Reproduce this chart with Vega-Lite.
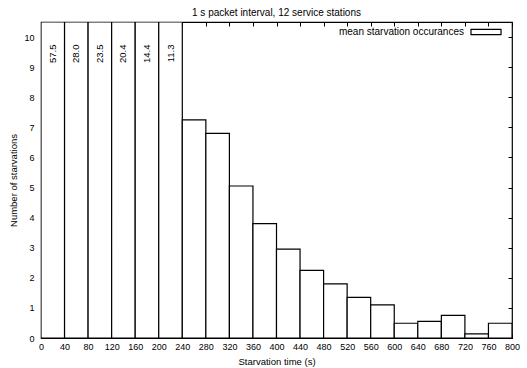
{
  "$schema": "https://vega.github.io/schema/vega-lite/v6.json",
  "width": 471,
  "height": 316,
  "autosize": "none",
  "padding": {"left": 41, "top": 22, "right": 15, "bottom": 30},
  "background": "white",
  "config": {
    "font": "Liberation Sans",
    "view": {"stroke": "black", "strokeWidth": 1.2},
    "axis": {"domain": false, "grid": false, "tickColor": "black", "labelColor": "black", "titleColor": "black", "labelFontSize": 9, "titleFontSize": 9.5, "titleFontWeight": "normal", "labelFont": "Liberation Sans", "titleFont": "Liberation Sans"}
  },
  "title": {"text": "1 s packet interval, 12 service stations", "fontSize": 10, "fontWeight": "normal", "font": "Liberation Sans", "color": "black", "offset": -2},
  "data": {"values": [
    {"start": 0, "end": 40, "value": 57.5, "label": "57.5", "series": "mean starvation occurances"},
    {"start": 40, "end": 80, "value": 28.0, "label": "28.0", "series": "mean starvation occurances"},
    {"start": 80, "end": 120, "value": 23.5, "label": "23.5", "series": "mean starvation occurances"},
    {"start": 120, "end": 160, "value": 20.4, "label": "20.4", "series": "mean starvation occurances"},
    {"start": 160, "end": 200, "value": 14.4, "label": "14.4", "series": "mean starvation occurances"},
    {"start": 200, "end": 240, "value": 11.3, "label": "11.3", "series": "mean starvation occurances"},
    {"start": 240, "end": 280, "value": 7.25, "label": "", "series": "mean starvation occurances"},
    {"start": 280, "end": 320, "value": 6.8, "label": "", "series": "mean starvation occurances"},
    {"start": 320, "end": 360, "value": 5.05, "label": "", "series": "mean starvation occurances"},
    {"start": 360, "end": 400, "value": 3.8, "label": "", "series": "mean starvation occurances"},
    {"start": 400, "end": 440, "value": 2.95, "label": "", "series": "mean starvation occurances"},
    {"start": 440, "end": 480, "value": 2.25, "label": "", "series": "mean starvation occurances"},
    {"start": 480, "end": 520, "value": 1.8, "label": "", "series": "mean starvation occurances"},
    {"start": 520, "end": 560, "value": 1.35, "label": "", "series": "mean starvation occurances"},
    {"start": 560, "end": 600, "value": 1.1, "label": "", "series": "mean starvation occurances"},
    {"start": 600, "end": 640, "value": 0.49, "label": "", "series": "mean starvation occurances"},
    {"start": 640, "end": 680, "value": 0.55, "label": "", "series": "mean starvation occurances"},
    {"start": 680, "end": 720, "value": 0.75, "label": "", "series": "mean starvation occurances"},
    {"start": 720, "end": 760, "value": 0.14, "label": "", "series": "mean starvation occurances"},
    {"start": 760, "end": 800, "value": 0.49, "label": "", "series": "mean starvation occurances"}
  ]},
  "layer": [
    {
      "mark": {"type": "bar", "stroke": "black", "strokeWidth": 1.2, "clip": true},
      "encoding": {
        "x": {"field": "start", "type": "quantitative", "scale": {"domain": [0, 800], "nice": false, "zero": false},
          "axis": {"orient": "bottom", "values": [0,40,80,120,160,200,240,280,320,360,400,440,480,520,560,600,640,680,720,760,800], "tickSize": -4, "tickWidth": 1, "labelPadding": 8, "title": "Starvation time (s)", "titlePadding": 5, "labelFlush": false}},
        "x2": {"field": "end"},
        "y": {"field": "value", "type": "quantitative", "scale": {"domain": [0, 10.5], "nice": false, "clamp": true},
          "axis": {"orient": "left", "values": [0,1,2,3,4,5,6,7,8,9,10], "tickSize": -4, "tickWidth": 1, "labelPadding": 11, "title": "Number of starvations", "titlePadding": 5}},
        "y2": {"datum": 0},
        "fill": {"field": "series", "type": "nominal", "scale": {"range": ["white"]},
          "legend": {"orient": "none", "legendX": 429, "legendY": -6, "title": null, "symbolType": "M-1,-0.17L1,-0.17L1,0.17L-1,0.17Z", "symbolSize": 900, "symbolStrokeColor": "black", "symbolStrokeWidth": 1.2, "symbolFillColor": "white", "labelAlign": "right", "labelOffset": -38, "labelFontSize": 10, "labelColor": "black", "labelFont": "Liberation Sans", "labelLimit": 300}}
      }
    },
    {
      "transform": [{"filter": "datum.label != ''"}],
      "mark": {"type": "text", "angle": 270, "align": "right", "baseline": "middle", "dy": 11.8, "fontSize": 9.5, "color": "black", "font": "Liberation Sans"},
      "encoding": {
        "x": {"field": "start", "type": "quantitative", "axis": null},
        "y": {"datum": 9.75, "axis": null},
        "text": {"field": "label"}
      }
    },
    {
      "mark": {"type": "point", "opacity": 0},
      "encoding": {
        "x": {"field": "start", "type": "quantitative", "axis": {"orient": "top", "values": [0,40,80,120,160,200,240,280,320,360,400,440,480,520,560,600,640,680,720,760,800], "tickSize": -4, "tickWidth": 1, "labels": false, "title": null, "minExtent": 0, "maxExtent": 0}},
        "y": {"field": "value", "type": "quantitative", "axis": {"orient": "right", "values": [0,1,2,3,4,5,6,7,8,9,10], "tickSize": -4, "tickWidth": 1, "labels": false, "title": null, "minExtent": 0, "maxExtent": 0}}
      }
    }
  ],
  "resolve": {"axis": {"x": "independent", "y": "independent"}}
}
